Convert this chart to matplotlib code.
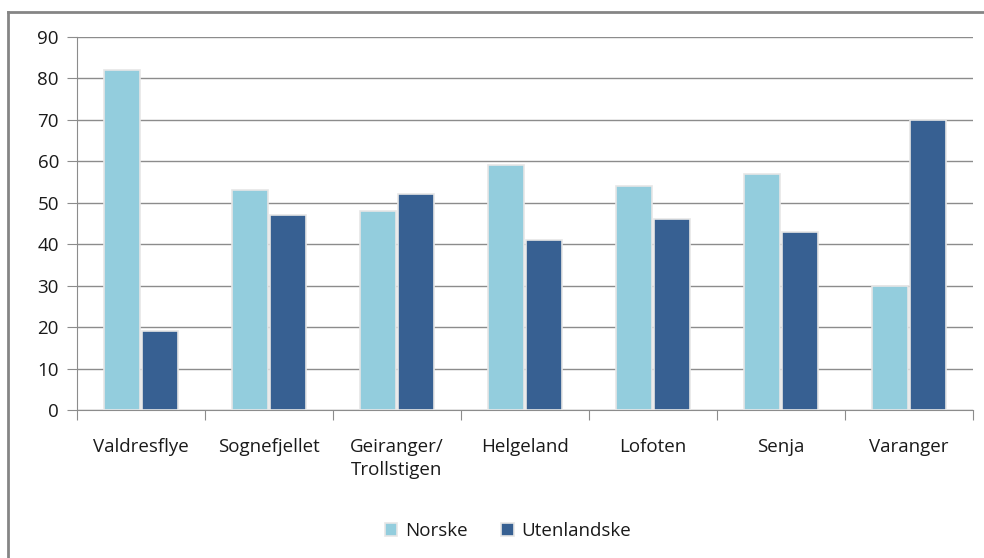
import matplotlib.pyplot as plt
import numpy as np
from matplotlib.lines import Line2D

plt.rcParams['font.family'] = ['Open Sans', 'DejaVu Sans']

steder = ['Valdresflye', 'Sognefjellet', 'Geiranger/\nTrollstigen', 'Helgeland',
          'Lofoten', 'Senja', 'Varanger']
norske = [82, 53, 48, 59, 54, 57, 30]
utenlandske = [19, 47, 52, 41, 46, 43, 70]

fig = plt.figure(figsize=(9.84, 5.58), dpi=100)
ax = fig.add_axes([77/984, 1-410/558, (973-77)/984, (410-37)/558])

x = np.arange(len(steder))
w = 0.285
shadow = dict(edgecolor='#e6e6e6', linewidth=1.2)
ax.bar(x - w/2 - 0.005, norske, w, color='#93cddd', label='Norske', zorder=3, **shadow)
ax.bar(x + w/2 + 0.005, utenlandske, w, color='#376092', label='Utenlandske', zorder=3, **shadow)

ax.set_xlim(-0.5, len(steder) - 0.5)
ax.set_ylim(0, 90)
ax.set_yticks(np.arange(0, 91, 10))
ax.yaxis.grid(True, color='#8c8c8c', linewidth=1)
ax.set_axisbelow(True)

for s in ['top', 'right']:
    ax.spines[s].set_visible(False)
ax.spines['left'].set_color('#8c8c8c')
ax.spines['bottom'].set_color('#8c8c8c')

fs = 13.5
# category labels centred, tick marks between categories
ax.set_xticks(np.arange(-0.5, len(steder)), minor=False)
ax.set_xticklabels([])
ax.set_xticks(x, minor=True)
ax.set_xticklabels(steder, minor=True, fontsize=fs, color='#1a1a1a', linespacing=1.35, va='top')
ax.tick_params(axis='x', which='major', length=7, color='#8c8c8c', direction='out')
ax.tick_params(axis='x', which='minor', length=0, pad=20)
ax.tick_params(axis='y', length=7, color='#8c8c8c', labelsize=fs, labelcolor='#1a1a1a', pad=6)

# outer chart frame
fig.add_artist(Line2D([8/984, 8/984], [0, 1-12/558], color='#858585', lw=2, transform=fig.transFigure))
fig.add_artist(Line2D([8/984, 1], [1-12/558, 1-12/558], color='#858585', lw=2, transform=fig.transFigure))

fig.legend(loc='center', bbox_to_anchor=(508/984, 1-531/558), ncol=2, frameon=False,
           fontsize=fs, labelcolor='#1a1a1a', handlelength=0.65, handleheight=0.65,
           handletextpad=0.4, columnspacing=1.8)

fig.savefig('out.png', dpi=100)
